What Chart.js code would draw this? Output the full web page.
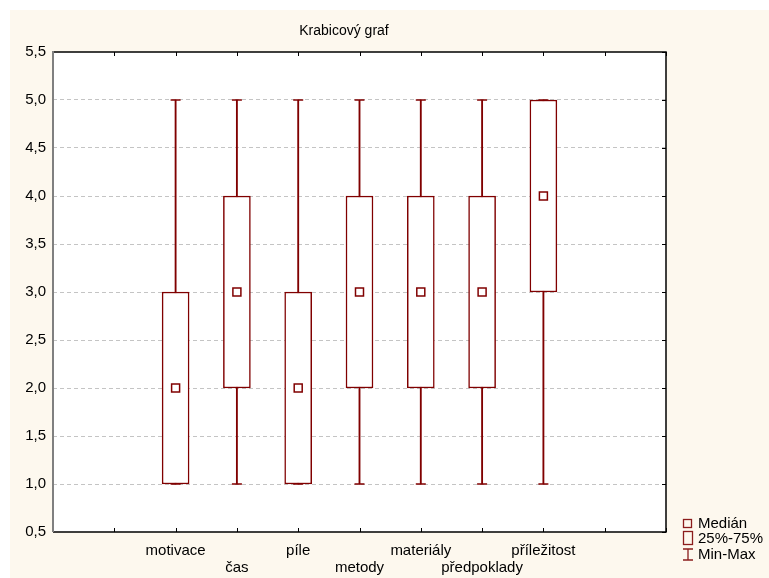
<!DOCTYPE html>
<html>
<head>
<meta charset="utf-8">
<title>Krabicový graf</title>
<script src="https://cdn.jsdelivr.net/npm/chart.js@4.4.0/dist/chart.umd.min.js"></script>
<style>
    html, body { margin: 0; padding: 0; background: #ffffff; }
    #wrap { width: 769px; height: 578px; }
</style>
</head>
<body>
<div id="wrap"><canvas id="chart" width="769" height="578"></canvas></div>
<script>
const chartTitle = 'Krabicový graf';
const categories = ['motivace', 'čas', 'píle', 'metody', 'materiály', 'předpoklady', 'příležitost'];
const minValues = [1, 1, 1, 1, 1, 1, 1];
const q1Values = [1, 2, 1, 2, 2, 2, 3];
const medianValues = [2, 3, 2, 3, 3, 3, 4];
const q3Values = [3, 4, 3, 4, 4, 4, 5];
const maxValues = [5, 5, 5, 5, 5, 5, 5];
const yTicks = [0.5, 1, 1.5, 2, 2.5, 3, 3.5, 4, 4.5, 5, 5.5];
const legendLabels = ['Medián', '25%-75%', 'Min-Max'];

const RED = '#800000';
const FONT = '"Liberation Sans", Arial, sans-serif';

// the axis has two empty slots on each side of the categories
const empty = ['', ''];
const labels = [...empty, ...categories.map((c, i) => i % 2 ? ['', c] : c), ...empty];
const slot = arr => [null, null, ...arr, null, null];

const frame = {
    id: 'frame',
    beforeDraw(chart) {
        const ctx = chart.ctx;
        ctx.save();
        ctx.fillStyle = '#fdf8ee';
        ctx.fillRect(10, 10, chart.width - 10, chart.height - 10);
        const a = chart.chartArea;
        ctx.fillStyle = '#ffffff';
        ctx.fillRect(a.left, a.top, a.right - a.left, a.bottom - a.top);
        ctx.restore();
    },
    afterDraw(chart) {
        const ctx = chart.ctx;
        const a = chart.chartArea;
        const x = chart.scales.x;
        const y = chart.scales.y;
        ctx.save();

        // inward tick marks
        ctx.strokeStyle = '#000';
        ctx.lineWidth = 1;
        ctx.beginPath();
        x.ticks.forEach((t, i) => {
            const px = Math.round(x.getPixelForTick(i)) + 0.5;
            ctx.moveTo(px, a.top); ctx.lineTo(px, a.top + 4);
            ctx.moveTo(px, a.bottom); ctx.lineTo(px, a.bottom - 4);
        });
        y.ticks.forEach((t, i) => {
            const py = Math.round(y.getPixelForTick(i)) + 0.5;
            ctx.moveTo(a.right, py); ctx.lineTo(a.right - 4, py);
        });
        ctx.stroke();

        // border
        ctx.lineWidth = 1.5;
        ctx.beginPath();
        ctx.moveTo(a.left, a.top); ctx.lineTo(a.right, a.top);
        ctx.lineTo(a.right, a.bottom); ctx.lineTo(a.left, a.bottom);
        ctx.stroke();
        ctx.strokeStyle = '#808080';
        ctx.lineWidth = 2;
        ctx.beginPath();
        ctx.moveTo(a.left, a.top - 1); ctx.lineTo(a.left, a.bottom);
        ctx.stroke();

        // title
        ctx.fillStyle = '#000';
        ctx.font = '14px ' + FONT;
        ctx.textAlign = 'center';
        ctx.textBaseline = 'middle';
        ctx.fillText(chartTitle, 344, 31);

        // legend
        const lx = a.right + 17;
        const rows = [a.bottom - 9, a.bottom + 6, a.bottom + 22];
        ctx.strokeStyle = '#8b1c1c';
        ctx.lineWidth = 1.3;
        ctx.strokeRect(lx + 0.5, rows[0] - 3.5, 8, 8);
        ctx.strokeRect(lx + 0.5, rows[1] - 6.5, 9, 13);
        ctx.beginPath();
        ctx.moveTo(lx + 5, rows[2] - 5); ctx.lineTo(lx + 5, rows[2] + 6);
        ctx.moveTo(lx, rows[2] - 5); ctx.lineTo(lx + 10, rows[2] - 5);
        ctx.moveTo(lx, rows[2] + 6); ctx.lineTo(lx + 10, rows[2] + 6);
        ctx.stroke();
        ctx.font = '15px ' + FONT;
        ctx.textAlign = 'left';
        legendLabels.forEach((t, i) => ctx.fillText(t, lx + 15, rows[i] + 1));
        ctx.restore();
    }
};

new Chart(document.getElementById('chart'), {
    type: 'bar',
    data: {
        labels: labels,
        datasets: [
            {
                label: 'Min-Max',
                data: slot(categories.map((c, i) => [minValues[i], maxValues[i]])),
                backgroundColor: RED,
                borderWidth: 0,
                barThickness: 1.2,
                grouped: false,
                order: 4
            },
            {
                label: '25%-75%',
                data: slot(categories.map((c, i) => [q1Values[i], q3Values[i]])),
                backgroundColor: '#ffffff',
                borderColor: RED,
                borderWidth: 1.5,
                borderSkipped: false,
                barThickness: 27,
                grouped: false,
                order: 3
            },
            {
                type: 'line',
                label: 'Min',
                data: slot(minValues),
                showLine: false,
                pointStyle: 'line',
                pointRadius: 5,
                pointBorderWidth: 1.3,
                pointBorderColor: RED,
                order: 2
            },
            {
                type: 'line',
                label: 'Max',
                data: slot(maxValues),
                showLine: false,
                pointStyle: 'line',
                pointRadius: 5,
                pointBorderWidth: 1.3,
                pointBorderColor: RED,
                order: 2
            },
            {
                type: 'line',
                label: 'Medián',
                data: slot(medianValues),
                showLine: false,
                pointStyle: 'rect',
                pointRadius: 5.66,
                pointBackgroundColor: '#ffffff',
                pointBorderColor: RED,
                pointBorderWidth: 1.5,
                order: 1
            }
        ]
    },
    options: {
        responsive: false,
        animation: false,
        devicePixelRatio: 1,
        layout: { padding: { left: 10, top: 52, right: 103, bottom: 0 } },
        plugins: {
            legend: { display: false },
            title: { display: false },
            tooltip: { enabled: false }
        },
        scales: {
            x: {
                type: 'category',
                offset: false,
                grid: { display: false, drawTicks: false },
                border: { display: false },
                ticks: {
                    autoSkip: false,
                    maxRotation: 0,
                    minRotation: 0,
                    padding: 10,
                    color: '#000',
                    font: { family: FONT, size: 15, lineHeight: 1.13 }
                },
                afterFit: s => { s.height = 46; }
            },
            y: {
                min: 0.5,
                max: 5.5,
                afterBuildTicks: s => { s.ticks = yTicks.map(v => ({ value: v })); },
                grid: {
                    drawTicks: false,
                    color: c => (c.tick && (c.tick.value === 0.5 || c.tick.value === 5.5)) ? 'rgba(0,0,0,0)' : '#c4c4c4'
                },
                border: { display: false, dash: [4, 3] },
                ticks: {
                    padding: 7,
                    color: '#000',
                    font: { family: FONT, size: 15 },
                    callback: v => v.toFixed(1).replace('.', ',')
                },
                afterFit: s => { s.width = 43; }
            }
        }
    },
    plugins: [frame]
});
</script>
</body>
</html>
